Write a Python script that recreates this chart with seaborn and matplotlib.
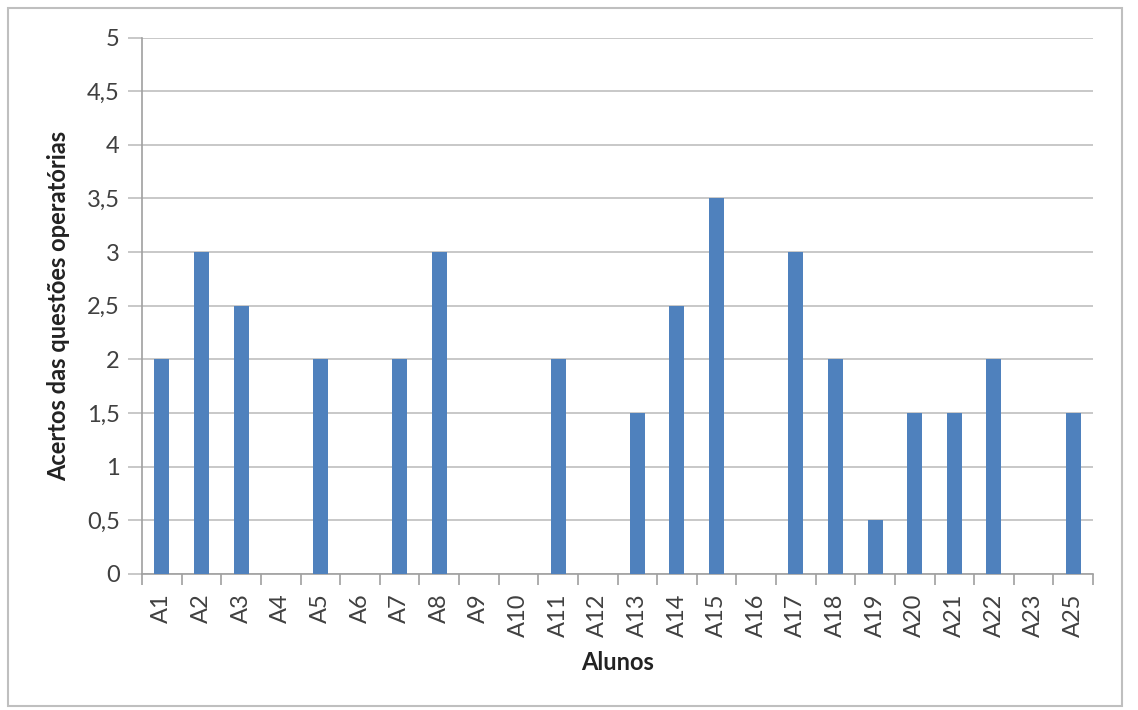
import matplotlib
matplotlib.use("Agg")
import matplotlib.pyplot as plt
import seaborn as sns
import pandas as pd
from matplotlib.patches import Rectangle

alunos = ["A1", "A2", "A3", "A4", "A5", "A6", "A7", "A8", "A9", "A10", "A11", "A12",
          "A13", "A14", "A15", "A16", "A17", "A18", "A19", "A20", "A21", "A22", "A23", "A25"]
acertos = [2, 3, 2.5, 0, 2, 0, 2, 3, 0, 0, 2, 0,
           1.5, 2.5, 3.5, 0, 3, 2, 0.5, 1.5, 1.5, 2, 0, 1.5]
y_ticks = [0, 0.5, 1, 1.5, 2, 2.5, 3, 3.5, 4, 4.5, 5]
y_tick_labels = ["0", "0,5", "1", "1,5", "2", "2,5", "3", "3,5", "4", "4,5", "5"]

sns.set_theme(style="white")
plt.rcParams['font.family'] = ['Lato', 'DejaVu Sans']

df = pd.DataFrame({"Alunos": alunos, "Acertos": acertos})

fig = plt.figure(figsize=(11.38, 7.10), dpi=100)
fig.patch.set_facecolor("white")
fig.patches.append(Rectangle((8/1138, 1-706/710), (1122-8)/1138, (706-8)/710,
                             transform=fig.transFigure, fill=False,
                             edgecolor="#BFBFBF", linewidth=1.5))

ax = fig.add_axes([142/1138, 1-574/710, (1093-142)/1138, (574-37.5)/710])
sns.barplot(data=df, x="Alunos", y="Acertos", color="#4F81BD", saturation=1,
            width=0.38, ax=ax, zorder=3, linewidth=0)

ax.set_ylim(0, 5)
ax.set_xlim(-0.5, len(alunos)-0.5)
ax.set_yticks(y_ticks)
ax.set_yticklabels(y_tick_labels, fontsize=17, color="#404040")
ax.tick_params(axis="x", labelrotation=90, labelsize=17, labelcolor="#404040")
ax.yaxis.grid(True, color="#BFBFBF", linewidth=1.2, zorder=0)
ax.xaxis.grid(False)
for s in ["top", "right"]:
    ax.spines[s].set_visible(False)
for s in ["left", "bottom"]:
    ax.spines[s].set_color("#A0A0A0")
    ax.spines[s].set_linewidth(1.2)

ax.tick_params(axis="y", which="major", left=True, length=10, color="#BFBFBF", width=1.2, pad=6)
ax.set_xticks([i - 0.5 for i in range(len(alunos)+1)], minor=True)
ax.tick_params(axis="x", which="major", bottom=False, pad=8)
ax.tick_params(axis="x", which="minor", bottom=True, length=8, color="#A0A0A0", width=1.2)

ax.set_xlabel("Alunos", fontsize=17, fontweight="bold", color="#222222", labelpad=10)
ax.set_ylabel("Acertos das questões operatórias", fontsize=17, fontweight="bold",
              color="#222222", labelpad=12)

fig.savefig("out.png", dpi=100)
